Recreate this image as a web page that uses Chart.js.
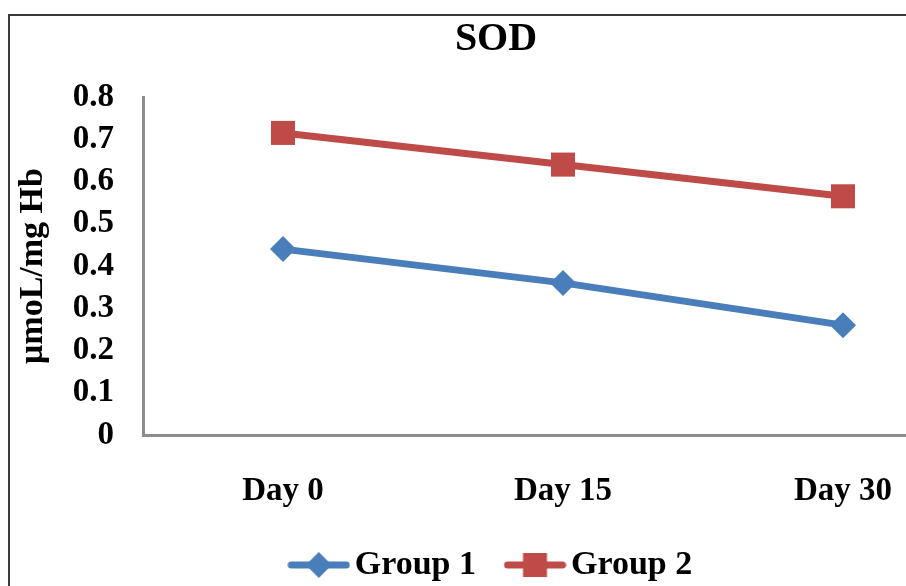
<!doctype html>
<html lang="en">
<head>
  <meta charset="UTF-8">
  <title>SOD</title>
  <script src="https://cdn.jsdelivr.net/npm/chart.js@4.4.1/dist/chart.umd.min.js"></script>
  <style>
    html, body { margin: 0; padding: 0; background: #fff; overflow: hidden; }
    .frame {
      position: absolute; left: 8px; top: 14px;
      width: 1000px; height: 600px;
      border: 2px solid #3a3a3a;
    }
    .chart-box { position: absolute; left: 0; top: 0; width: 990px; height: 576px; }
  </style>
</head>
<body>
  <div class="frame">
    <div class="chart-box">
      <canvas id="sodChart"></canvas>
    </div>
  </div>
<script>
  // data
  const days = ['Day 0', 'Day 15', 'Day 30'];
  const group1 = [0.44, 0.36, 0.26];
  const group2 = [0.715, 0.64, 0.565];
  const seriesNames = ['Group 1', 'Group 2'];

  const blue = '#4a7ebb';
  const red = '#be4b48';
  const axisGrey = '#8c8c8c';
  const serif = '"Liberation Serif", "Times New Roman", serif';

  // legend icon: line with the marker on it
  function makeIcon(color, style) {
    const c = document.createElement('canvas');
    c.width = 63; c.height = 30;
    const g = c.getContext('2d');
    g.strokeStyle = color;
    g.fillStyle = color;
    g.lineWidth = 7;
    g.lineCap = 'round';
    g.beginPath();
    g.moveTo(4, 15); g.lineTo(59, 15);
    g.stroke();
    g.beginPath();
    if (style === 'diamond') {
      g.moveTo(31.5 - 13, 15); g.lineTo(31.5, 2);
      g.lineTo(31.5 + 13, 15); g.lineTo(31.5, 28);
      g.closePath();
    } else {
      g.rect(31.5 - 12, 3, 24, 24);
    }
    g.fill();
    return c;
  }
  const icons = [makeIcon(blue, 'diamond'), makeIcon(red, 'square')];

  let ctx = document.getElementById('sodChart');
  new Chart(ctx, {
    type: 'line',
    data: {
      labels: days,
      datasets: [{
        label: seriesNames[0],
        data: group1,
        borderColor: blue,
        backgroundColor: blue,
        borderWidth: 7,
        pointStyle: 'rectRot',
        pointRadius: 13,
        pointBorderWidth: 0,
        pointHoverRadius: 13
      }, {
        label: seriesNames[1],
        data: group2,
        borderColor: red,
        backgroundColor: red,
        borderWidth: 7,
        pointStyle: 'rect',
        pointRadius: 17,
        pointBorderWidth: 0,
        pointHoverRadius: 17
      }]
    },
    options: {
      responsive: true,
      maintainAspectRatio: false,
      animation: false,
      layout: { padding: { left: -12, right: 6, top: 0, bottom: 0 } },
      plugins: {
        tooltip: { enabled: false },
        title: {
          display: true,
          text: 'SOD',
          color: '#000',
          font: { family: serif, size: 40, weight: 'bold' },
          padding: { top: 0, bottom: 33 }
        },
        legend: {
          position: 'bottom',
          labels: {
            usePointStyle: true,
            pointStyleWidth: 38,
            padding: 40,
            color: '#000',
            font: { family: serif, size: 34, weight: 'bold' },
            generateLabels: function(chart) {
              const items = Chart.defaults.plugins.legend.labels.generateLabels(chart);
              items.forEach((it, i) => { it.pointStyle = icons[i]; });
              return items;
            }
          }
        }
      },
      scales: {
        x: {
          offset: true,
          grid: { display: false, drawTicks: false },
          border: { display: true, color: axisGrey, width: 3 },
          afterFit: function(scale) { scale.height = 73; },
          ticks: {
            color: '#000',
            padding: 37,
            font: { family: serif, size: 33, weight: 'bold' }
          }
        },
        y: {
          min: 0,
          max: 0.8,
          grid: { display: false, drawTicks: false },
          border: { display: true, color: axisGrey, width: 3 },
          afterFit: function(scale) { scale.width = 145; },
          ticks: {
            stepSize: 0.1,
            autoSkip: false,
            color: '#000',
            padding: 29,
            font: { family: serif, size: 33, weight: 'bold' },
            callback: v => Math.round(v * 10) / 10
          },
          title: {
            display: true,
            text: 'μmoL/mg Hb',
            color: '#000',
            padding: { top: 15, bottom: 0 },
            font: { family: serif, size: 34, weight: 'bold' }
          }
        }
      }
    }
  });
</script>
</body>
</html>
